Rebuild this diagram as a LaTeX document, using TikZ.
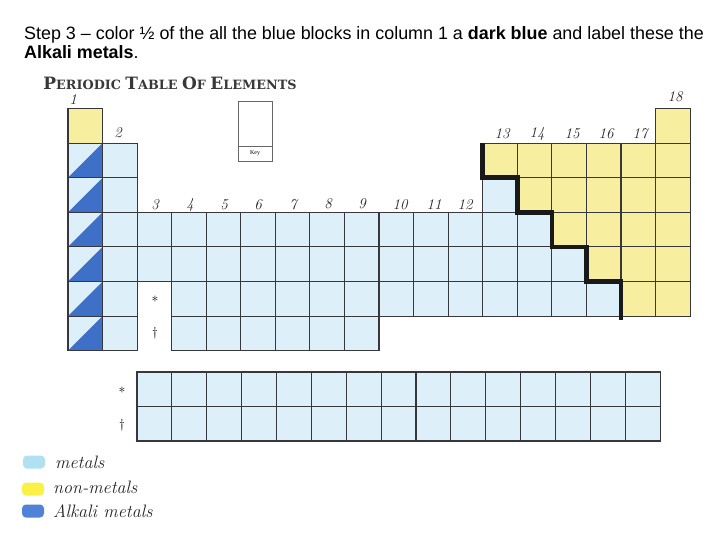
\documentclass[tikz,border=0pt]{standalone}
\usepackage{fontspec}
\newfontfamily\arialF{Liberation Sans}
\newfontfamily\serifF{Liberation Serif}
\newfontfamily\titleF{DejaVu Serif}
\usetikzlibrary{calc}
\definecolor{metb}{RGB}{221,239,248}
\definecolor{nmy}{RGB}{248,238,160}
\definecolor{alkb}{RGB}{62,112,200}
\definecolor{gridc}{RGB}{55,55,60}
\definecolor{swb}{RGB}{175,225,242}
\definecolor{swy}{RGB}{250,240,70}
\definecolor{swd}{RGB}{80,130,215}
\newcommand\tbig[1]{{\fontsize{17}{17}\selectfont #1}}
\begin{document}
\begin{tikzpicture}[x=1pt,y=-1pt,
 cell/.style={draw=gridc, line width=1.1pt, minimum width=34.56pt, minimum height=34.6pt, inner sep=0pt, outer sep=0pt},
 met/.style={cell, fill=metb},
 nm/.style={cell, fill=nmy},
 alk/.style={cell, fill=metb, path picture={\fill[alkb] (path picture bounding box.south west) -- (path picture bounding box.south east) -- (path picture bounding box.north east) -- cycle;}},
 lcell/.style={cell, fill=metb, minimum width=34.87pt, minimum height=34.5pt},
 hand/.style={font=\fontsize{15}{15}\selectfont\itshape, inner sep=0pt, text=black!85},
 legend/.style={font=\fontsize{18}{18}\selectfont\itshape, inner sep=0pt, anchor=west, text=black!85},
 swatch/.style={minimum width=22pt, minimum height=13pt, inner sep=0pt, rounded corners=4pt},
 keybox/.style={draw=black!60, line width=0.6pt, minimum width=34pt, inner sep=0pt, outer sep=0pt},
 header/.style={anchor=base west, inner sep=0pt, font=\arialF\fontsize{17.9}{17.9}\selectfont}
]
\useasboundingbox (0,0) rectangle (720,540);
% header
\node[header] (h1) at (24,40) {Step 3 – color ½ of the all the blue blocks in column 1 a \textbf{dark blue} and label these the};
\node[header] (h2) at (24,59) {\textbf{Alkali metals}.};
% title
\node[anchor=base, font=\titleF\bfseries\fontsize{12.8}{12.8}\selectfont, text=black!78, inner sep=0pt] (title) at (170,90) {\tbig{P}ERIODIC \tbig{T}ABLE \tbig{O}F \tbig{E}LEMENTS};
% key
\node[keybox, minimum height=45pt] (keytop) at (255,123.5) {};
\node[keybox, minimum height=15pt] (keybot) at (255,153.5) {\serifF\fontsize{6}{6}\selectfont Key};
% row 1 hydrogen
\node[nm] (m-1-1) at ({68+0.5*34.56},{108.5+0.5*34.6}) {};
% columns 1 and 2
\foreach \r in {2,...,7}{
 \node[alk] (m-\r-1) at ({68+0.5*34.56},{108.5+(\r-0.5)*34.6}) {};
 \node[met] (m-\r-2) at ({68+1.5*34.56},{108.5+(\r-0.5)*34.6}) {};
}
% transition metals
\foreach \r in {4,5}{\foreach \c in {3,...,12}{
 \node[met] (m-\r-\c) at ({68+(\c-0.5)*34.56},{108.5+(\r-0.5)*34.6}) {};
}}
\foreach \c in {4,...,12}{
 \node[met] (m-6-\c) at ({68+(\c-0.5)*34.56},{108.5+5.5*34.6}) {};
}
\foreach \c in {4,...,9}{
 \node[met] (m-7-\c) at ({68+(\c-0.5)*34.56},{108.5+6.5*34.6}) {};
}
% p block
\foreach \r in {1,...,6}{\foreach \c in {13,...,18}{
 \pgfmathtruncatemacro\ok{(\r>1)||(\c==18)}
 \pgfmathtruncatemacro\yl{\c>=\r+11}
 \ifnum\ok=1
  \ifnum\yl=1
   \node[nm] (m-\r-\c) at ({68+(\c-0.5)*34.56},{108.5+(\r-0.5)*34.6}) {};
  \else
   \node[met] (m-\r-\c) at ({68+(\c-0.5)*34.56},{108.5+(\r-0.5)*34.6}) {};
  \fi
 \fi
}}
% staircase
\draw[line width=4.5pt, black!90] (m-2-13.north west) -- (m-2-13.south west) -- (m-3-14.north west) -- (m-3-14.south west) -- (m-4-15.north west) -- (m-4-15.south west) -- (m-5-16.north west) -- (m-5-16.south west) -- (m-6-17.north west) -- ([yshift=-4pt]m-6-17.south west);
% lanthanides / actinides
\foreach \r in {1,2}{\foreach \c in {1,...,15}{
 \node[lcell] (l-\r-\c) at ({137+(\c-0.5)*34.87},{372+(\r-0.5)*34.5}) {};
}}
% group numbers
\node[hand] (g1) at (73,99.5) {1};
\node[hand] (g2) at (118,133) {2};
\node[hand] (g3) at (155,205) {3};
\node[hand] (g4) at (190,205) {4};
\node[hand] (g5) at (224,205) {5};
\node[hand] (g6) at (258,205) {6};
\node[hand] (g7) at (293,205) {7};
\node[hand] (g8) at (328,204) {8};
\node[hand] (g9) at (362,204) {9};
\node[hand] (g10) at (400,205) {10};
\node[hand] (g11) at (434,205) {11};
\node[hand] (g12) at (465,205) {12};
\node[hand] (g13) at (502,134) {13};
\node[hand] (g14) at (537,134) {14};
\node[hand] (g15) at (572,134) {15};
\node[hand] (g16) at (606,134) {16};
\node[hand] (g17) at (640,134) {17};
\node[hand] (g18) at (675,97) {18};
% markers
\node[inner sep=0pt, font=\fontsize{14}{14}\selectfont] (s1) at (155,301) {*};
\node[inner sep=0pt, font=\fontsize{13}{13}\selectfont] (d1) at (155,333) {\dag};
\node[inner sep=0pt, font=\fontsize{14}{14}\selectfont] (s2) at (122,392) {*};
\node[inner sep=0pt, font=\fontsize{13}{13}\selectfont] (d2) at (122,425) {\dag};
% legend
\node[swatch, fill=swb] (sw1) at (34,462) {};
\node[swatch, fill=swy] (sw2) at (33,489) {};
\node[swatch, fill=swd] (sw3) at (33,511) {};
\node[legend] (lg1) at (55,462) {metals};
\node[legend] (lg2) at (53,487) {non-metals};
\node[legend] (lg3) at (53,511) {Alkali metals};
\end{tikzpicture}
\end{document}
